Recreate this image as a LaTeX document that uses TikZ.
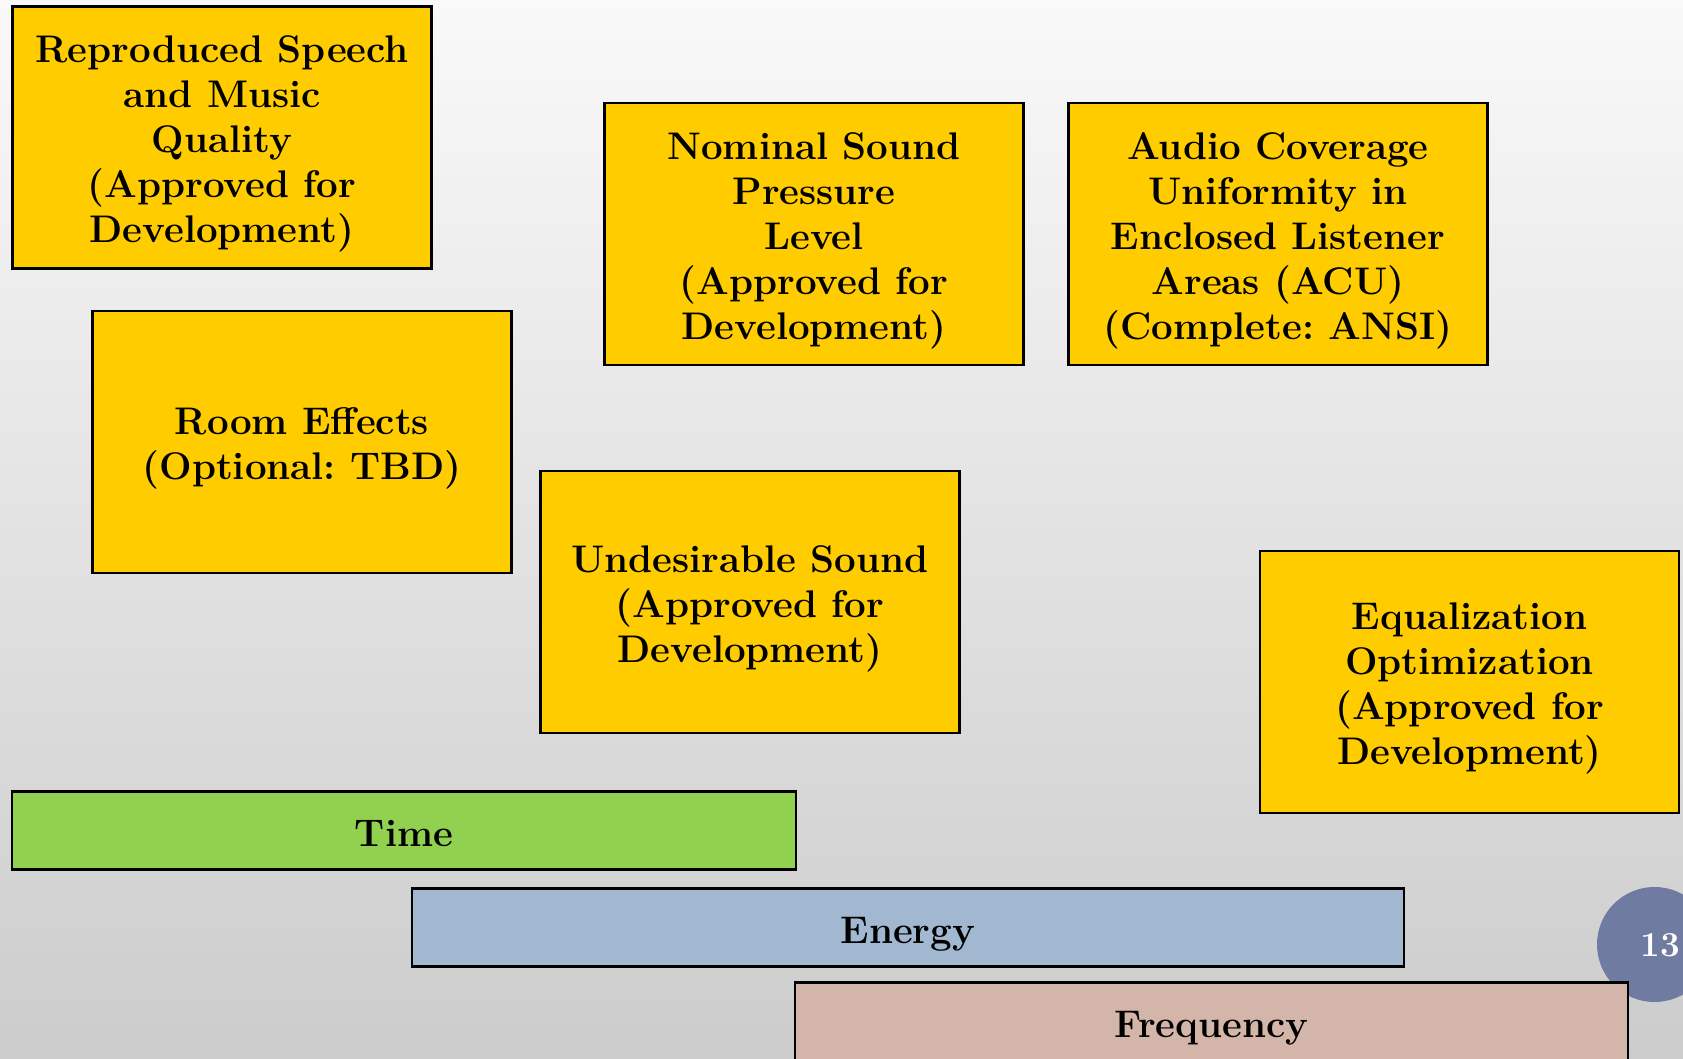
\documentclass[tikz,border=0pt]{standalone}
\usepackage{fontspec}
\newcommand{\topgap}{\rule{0pt}{40pt}}
\begin{document}
\frenchspacing
\begin{tikzpicture}[x=1pt,y=1pt,
  ybox/.style={draw=black, line width=2.6pt, fill=boxyellow, minimum width=419pt, minimum height=262pt, align=center, inner sep=0pt, font=\fontsize{38.5}{45}\selectfont\bfseries\frenchspacing},
  bar/.style={draw=black, line width=2.6pt, minimum height=78pt, inner sep=0pt, text height=40pt, text depth=8pt, font=\fontsize{38.5}{45}\selectfont\bfseries}]
\definecolor{boxyellow}{HTML}{FFCC00}
\definecolor{timegreen}{HTML}{92D050}
\definecolor{energyblue}{HTML}{A2B8D0}
\definecolor{freqpink}{HTML}{D4B5A9}
\definecolor{circblue}{HTML}{6F7BA0}
\clip (0,0) rectangle (1683,1058);
\shade[top color={rgb,255:red,249;green,249;blue,249}, middle color={rgb,255:red,239;green,239;blue,239}, bottom color={rgb,255:red,204;green,204;blue,204}] (0,0) rectangle (1683,1058);
\node[ybox] (rsm) at (222,920.5) {\topgap Reproduced Speech\\and Music\\Quality\\(Approved for\\Development)};
\node[ybox] (nsp) at (814,824) {\topgap Nominal Sound\\Pressure\\Level\\(Approved for\\Development)};
\node[ybox] (acu) at (1278,824) {\topgap Audio Coverage\\Uniformity in\\Enclosed Listener\\Areas (ACU)\\(Complete: ANSI)};
\node[ybox] (room) at (302,616) {\topgap Room Effects\\(Optional: TBD)};
\node[ybox] (und) at (750,456) {\topgap Undesirable Sound\\(Approved for\\Development)};
\node[ybox] (eq) at (1469.5,376) {\topgap Equalization\\Optimization\\(Approved for\\Development)};
\node[bar, fill=timegreen, minimum width=784pt] (time) at (404,227.5) {Time};
\node[bar, fill=energyblue, minimum width=992pt] (energy) at (908,130.5) {Energy};
\node[circle, fill=circblue, minimum size=115pt, inner sep=0pt] (pg) at (1654.5,113.5) {};
\node[text=white, font=\fontsize{35}{40}\selectfont\bfseries] (num) at (1660,113) {13};
\node[bar, fill=freqpink, minimum width=833pt] (freq) at (1211.5,36.5) {Frequency};
\end{tikzpicture}
\end{document}
